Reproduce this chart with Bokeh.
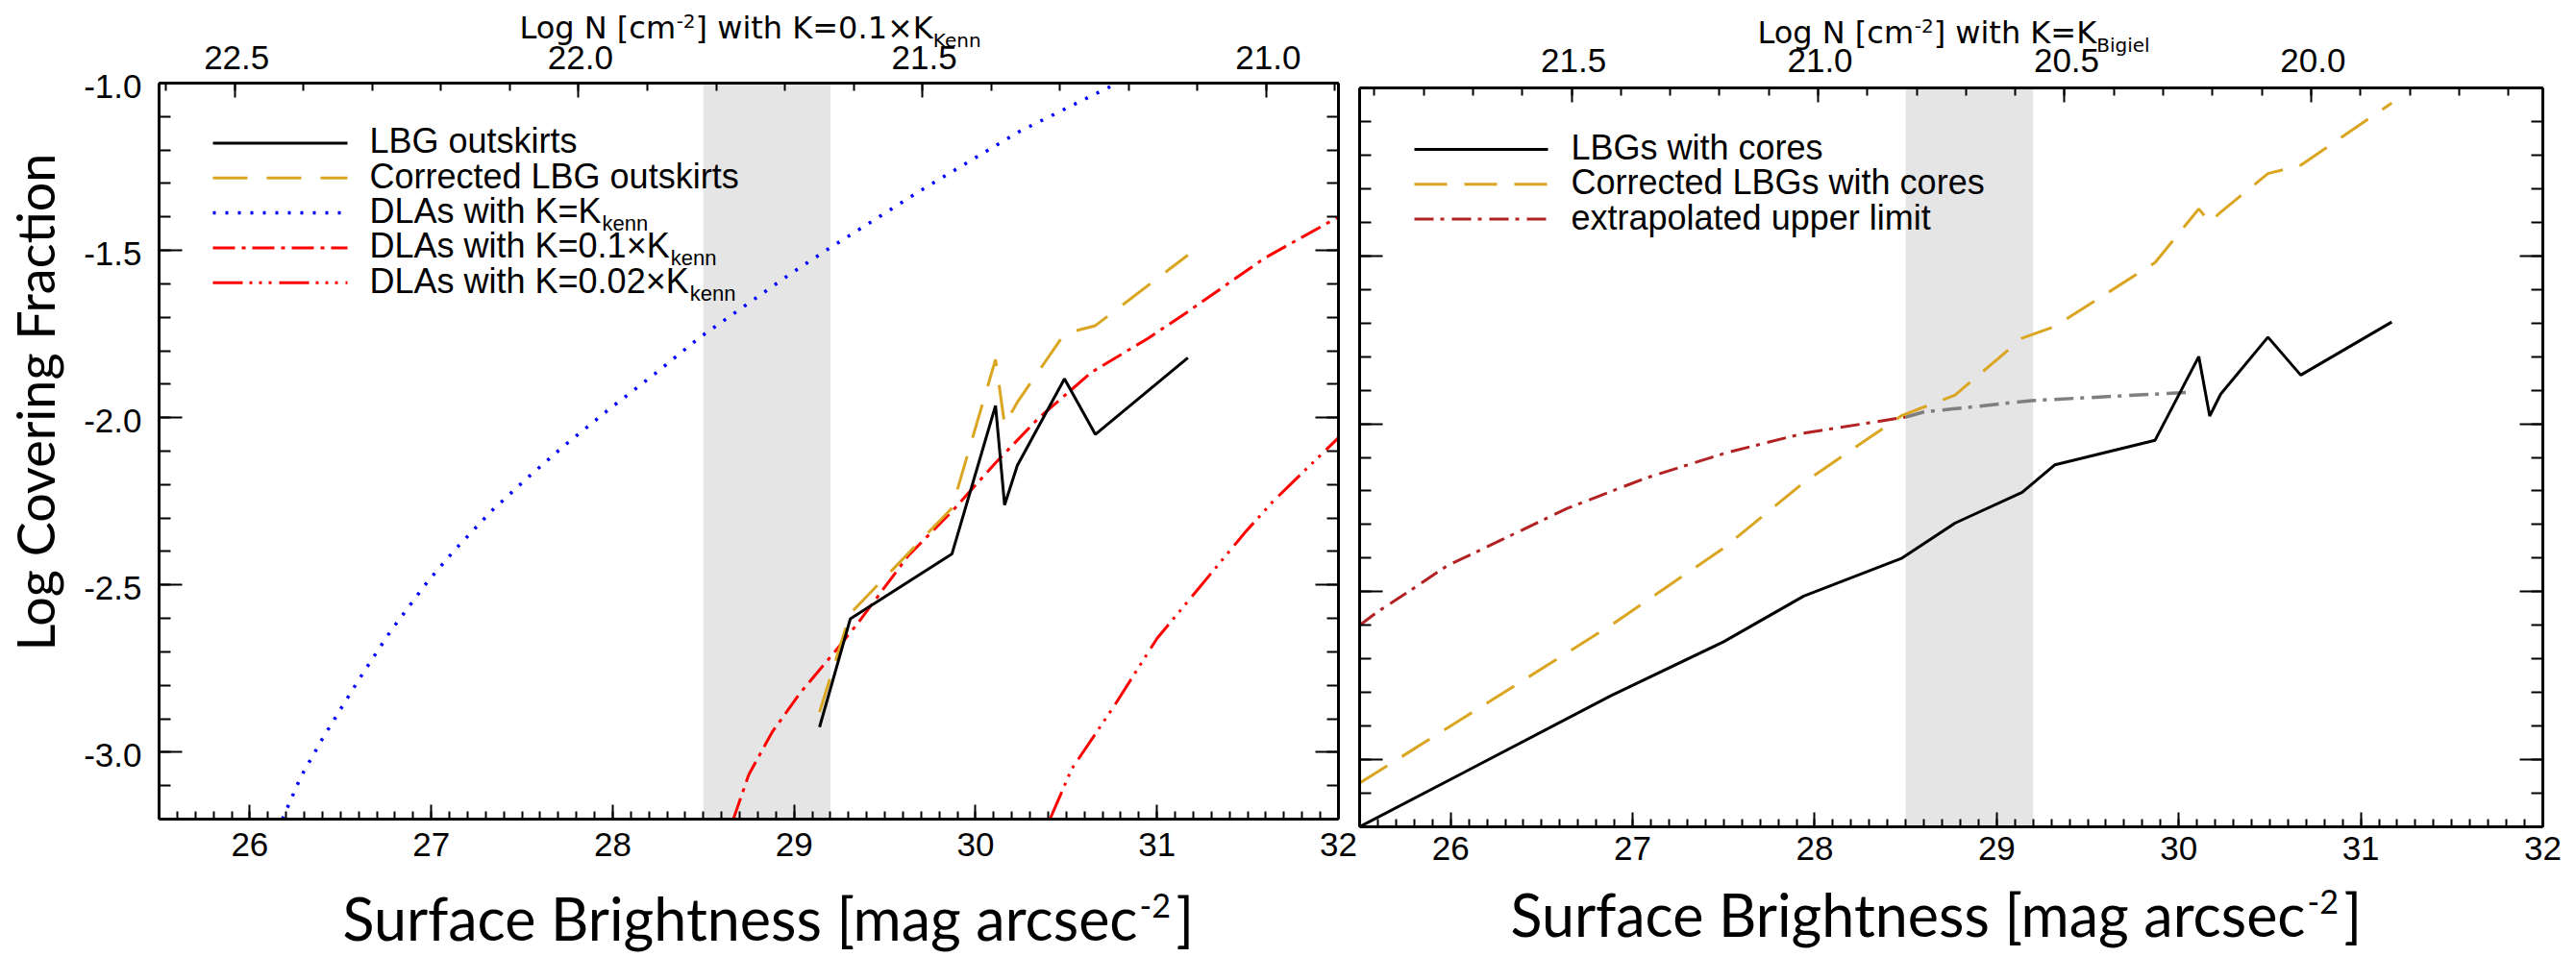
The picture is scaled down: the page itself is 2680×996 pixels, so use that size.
import numpy as np
from bokeh.plotting import figure
from bokeh.models import (Range1d, LinearAxis, FixedTicker, PrintfTickFormatter,
                          BoxAnnotation)
from bokeh.layouts import row, column
from bokeh.core.properties import value
from bokeh.embed import file_html
from bokeh.resources import INLINE

# ---------------- data ----------------
sb_range = [25.5, 32.0]          # surface brightness axis
fc_range = [-3.2, -1.0]          # log covering fraction axis
band = [28.5, 29.2]              # grey shaded interval

sb_ticks = [26, 27, 28, 29, 30, 31, 32]
fc_ticks = [-3.0, -2.5, -2.0, -1.5, -1.0]

# top axes: log N value at the left / right frame edge of each panel, and tick labels
logn_left_edges = [22.61, 20.895]
logn_left_ticks = [22.5, 22.0, 21.5, 21.0]
logn_right_edges = [21.93, 19.53]
logn_right_ticks = [21.5, 21.0, 20.5, 20.0]

# ---- left panel ----
outskirts_sb = [29.14, 29.31, 29.87, 30.11, 30.16, 30.23, 30.49, 30.66, 31.17]
outskirts_fc = [-2.925, -2.601, -2.407, -1.964, -2.261, -2.143, -1.884, -2.050, -1.821]
outskirts_corr_fc = [-2.880, -2.585, -2.270, -1.826, -2.021, -1.954, -1.749, -1.725, -1.514]

dla_kenn_sb = [26.18, 26.28, 26.40, 26.53, 26.64, 26.78, 26.98, 27.13, 27.33, 27.53, 27.73,
               27.98, 28.23, 28.48, 28.73, 28.98, 29.19, 29.38, 29.70, 30.24, 30.80]
dla_kenn_fc = [-3.200, -3.075, -2.960, -2.845, -2.750, -2.635, -2.490, -2.395, -2.280, -2.180,
               -2.085, -1.975, -1.870, -1.760, -1.665, -1.570, -1.495, -1.430, -1.320, -1.145, -0.995]

dla_01_sb = [28.665, 28.75, 28.88, 29.03, 29.23, 29.35, 29.63, 29.86, 30.11, 30.35, 30.64,
             30.95, 31.16, 31.59, 32.0]
dla_01_fc = [-3.200, -3.067, -2.939, -2.825, -2.696, -2.615, -2.412, -2.286, -2.135, -2.000,
             -1.864, -1.763, -1.687, -1.524, -1.400]

dla_002_sb = [30.41, 30.53, 30.76, 31.00, 31.23, 31.49, 31.64, 32.0]
dla_002_fc = [-3.20, -3.05, -2.865, -2.66, -2.51, -2.34, -2.25, -2.06]

# ---- right panel ----
cores_sb = [25.50, 26.88, 27.50, 27.94, 28.48, 28.77, 29.14, 29.32, 29.87, 30.11, 30.17,
            30.23, 30.49, 30.67, 31.17]
cores_fc = [-3.200, -2.810, -2.649, -2.513, -2.400, -2.296, -2.204, -2.122, -2.049, -1.800,
            -1.977, -1.912, -1.742, -1.855, -1.697]
cores_corr_fc = [-3.070, -2.600, -2.370, -2.175, -1.975, -1.915, -1.745, -1.710, -1.520,
                 -1.360, -1.400, -1.370, -1.255, -1.230, -1.045]

extrap_sb = [25.50, 25.59, 25.76, 25.98, 26.29, 26.64, 27.07, 27.51, 27.95, 28.50, 28.60,
             29.19, 30.07]
extrap_fc = [-2.600, -2.563, -2.503, -2.423, -2.343, -2.252, -2.162, -2.087, -2.027, -1.980,
             -1.965, -1.931, -1.906]

# ---------------- styling / layout ----------------
IDL_FONT = "Liberation Sans"
TITLE_FONT = "DejaVu Sans"
KEY_FONT = "Lato"
MID = {IDL_FONT: 0.35, TITLE_FONT: 0.35, KEY_FONT: 0.36}   # baseline -> text middle
GOLD = "#DAA520"
SHADE = "#E5E5E5"
FIREBRICK = "#B22222"
GREY = "#7F7F7F"

PAGE_H = 996
COL_L = (163, 1412)
COL_R = (1412, 2680)
BOX_L = dict(fl=165, fr=1392, ft=86, fb=852)
BOX_R = dict(fl=1414, fr=2645, ft=91, fb=860)
TOP_L_H, TOP_R_H = 84, 89
BOT_Y = 912

ARIAL = {' ': 278, '-': 333, '.': 278, '=': 584, '[': 278, ']': 278, '\u00d7': 584,
         'A': 667, 'B': 667, 'C': 722, 'D': 722, 'G': 778, 'K': 667, 'L': 556, 'N': 722,
         'a': 556, 'c': 500, 'd': 556, 'e': 556, 'g': 556, 'h': 556, 'i': 222, 'k': 500,
         'l': 222, 'm': 833, 'n': 556, 'o': 556, 'p': 556, 'r': 333, 's': 500, 't': 278,
         'u': 556, 'w': 722, 'x': 500}
for _d in "0123456789":
    ARIAL[_d] = 556
DEJAVU = {' ': 318, '-': 361, '.': 318, '=': 838, '[': 390, ']': 390, '\u00d7': 838,
          'B': 686, 'K': 656, 'L': 557, 'N': 748, 'a': 613, 'c': 550, 'e': 615, 'g': 635,
          'h': 634, 'i': 278, 'l': 278, 'm': 974, 'n': 634, 'o': 612, 't': 392, 'w': 818}
for _d in "0123456789":
    DEJAVU[_d] = 636


def text_width(s, size, table):
    return sum(table.get(ch, 556) for ch in s) * size / 1000.0


def lin(v0, v1, p0, p1, P):
    return v0 + (P - p0) * (v1 - v0) / (p1 - p0)


def mid(base, size, font):
    return base - MID[font] * size


def blank(x0, x1, y0, y1, xr, yr):
    p = figure(frame_width=x1 - x0, frame_height=y1 - y0,
               x_range=Range1d(*xr), y_range=Range1d(*yr),
               output_backend="svg", toolbar_location=None,
               x_axis_type=None, y_axis_type=None,
               min_border=0, min_border_left=0, min_border_right=0,
               min_border_top=0, min_border_bottom=0,
               background_fill_color="white", border_fill_color="white")
    p.outline_line_color = None
    p.title.visible = False
    return p


def txt(p, x, y, s, size, font, align="left", angle=0.0):
    p.text(x=[x], y=[y], text=[s], text_font=value(font), text_font_size=value(f"{size}px"),
           text_align=align, text_baseline="middle", angle=angle, text_color="black")


def style(ax, tin, tmin, labels, standoff=0):
    ax.axis_line_width = 3
    ax.axis_line_color = "black"
    ax.major_tick_in = tin
    ax.major_tick_out = 0
    ax.minor_tick_in = tmin
    ax.minor_tick_out = 0
    ax.major_tick_line_width = 2
    ax.minor_tick_line_width = 2
    ax.major_tick_line_color = "black"
    ax.minor_tick_line_color = "black"
    ax.major_label_text_font = IDL_FONT
    ax.major_label_text_font_size = "35px"
    ax.major_label_standoff = standoff
    ax.major_label_text_color = "black" if labels else None


def make_main(col, top_y, height, box, top_edges, top_ticks, standoff):
    p = figure(frame_width=box["fr"] - box["fl"], frame_height=box["fb"] - box["ft"],
               x_range=Range1d(*sb_range), y_range=Range1d(*fc_range),
               output_backend="svg", toolbar_location=None,
               min_border_left=box["fl"] - col[0], min_border_right=col[1] - box["fr"],
               min_border_top=box["ft"] - top_y, min_border_bottom=top_y + height - box["fb"],
               background_fill_color="white", border_fill_color="white")
    p.title.visible = False
    p.outline_line_color = None
    p.xgrid.visible = False
    p.ygrid.visible = False
    p.extra_x_ranges = {"logN": Range1d(*top_edges)}

    x_minor = [round(v, 2) for v in np.arange(sb_range[0], sb_range[1] + 1e-6, 0.1)]
    y_minor = [round(v, 2) for v in np.arange(fc_range[0], fc_range[1] + 1e-6, 0.1)]
    lo, hi = min(top_edges), max(top_edges)
    t_minor = [round(v, 2) for v in np.arange(np.ceil(lo * 10) / 10, hi + 1e-6, 0.1)]

    xb = p.xaxis[0]
    xb.ticker = FixedTicker(ticks=sb_ticks, minor_ticks=x_minor)
    xb.formatter = PrintfTickFormatter(format="%d")
    style(xb, 15, 8, True, standoff)

    yl = p.yaxis[0]
    yl.ticker = FixedTicker(ticks=fc_ticks, minor_ticks=y_minor)
    style(yl, 24, 12, False)

    yr = LinearAxis(ticker=FixedTicker(ticks=fc_ticks, minor_ticks=y_minor))
    style(yr, 24, 12, False)
    p.add_layout(yr, "right")

    xt = LinearAxis(x_range_name="logN",
                    ticker=FixedTicker(ticks=top_ticks, minor_ticks=t_minor))
    style(xt, 15, 8, False)
    p.add_layout(xt, "above")

    p.add_layout(BoxAnnotation(left=band[0], right=band[1], fill_color=SHADE,
                               fill_alpha=1.0, line_color=None, level="underlay"))
    return p


pL = make_main(COL_L, TOP_L_H, BOT_Y - TOP_L_H, BOX_L, logn_left_edges, logn_left_ticks, 14)
pR = make_main(COL_R, TOP_R_H, BOT_Y - TOP_R_H, BOX_R, logn_right_edges, logn_right_ticks, 10)


def to_data(box, X, Y):
    return (lin(sb_range[0], sb_range[1], box["fl"], box["fr"], X),
            lin(fc_range[1], fc_range[0], box["ft"], box["fb"], Y))


# ---------------- curves ----------------
pL.line(dla_kenn_sb, dla_kenn_fc, line_color="blue", line_width=3.5, line_dash="3 10")
pL.line(dla_01_sb, dla_01_fc, line_color="red", line_width=3, line_dash="23 7 4 7")
pL.line(dla_002_sb, dla_002_fc, line_color="red", line_width=3,
        line_dash="31 7 3 7 3 7 3 8")
pL.line(outskirts_sb, outskirts_corr_fc, line_color=GOLD, line_width=3, line_dash="36 20")
pL.line(outskirts_sb, outskirts_fc, line_color="black", line_width=3)

ex_sb = np.array(extrap_sb)
ex_fc = np.array(extrap_fc)
m1 = ex_sb <= band[0] + 1e-9
m2 = ex_sb >= band[0] - 1e-9
pR.line(ex_sb[m1], ex_fc[m1], line_color=FIREBRICK, line_width=3, line_dash="20 7 4 8")
pR.line(ex_sb[m2], ex_fc[m2], line_color=GREY, line_width=3.5, line_dash="20 7 4 8")
pR.line(cores_sb, cores_corr_fc, line_color=GOLD, line_width=3, line_dash="34 18")
pR.line(cores_sb, cores_fc, line_color="black", line_width=3)

# ---------------- legends (inside the frames, placed in data units) ----------------
LEG_SIZE = 36
SUB_SIZE = 22


def legend(p, box, x0, x1, xt, y0, dy, entries):
    for i, (name, sub, color, dash, lw) in enumerate(entries):
        Y = y0 + i * dy
        (a, yy), (b, _) = to_data(box, x0, Y), to_data(box, x1, Y)
        p.line([a, b], [yy, yy], line_color=color, line_width=lw, line_dash=dash)
        tx, ty = to_data(box, xt, mid(Y + 10.5, LEG_SIZE, IDL_FONT))
        txt(p, tx, ty, name, LEG_SIZE, IDL_FONT)
        if sub:
            w = text_width(name, LEG_SIZE, ARIAL)
            sx, sy = to_data(box, xt + w + 1, mid(Y + 18.5, SUB_SIZE, IDL_FONT))
            txt(p, sx, sy, sub, SUB_SIZE, IDL_FONT)


legend(pL, BOX_L, 221, 361, 384, 148.5, 36.3, [
    ("LBG outskirts", "", "black", "solid", 3),
    ("Corrected LBG outskirts", "", GOLD, "36 20", 3),
    ("DLAs with K=K", "kenn", "blue", "3 10", 3.5),
    ("DLAs with K=0.1\u00d7K", "kenn", "red", "23 7 4 7", 3),
    ("DLAs with K=0.02\u00d7K", "kenn", "red", "31 7 3 7 3 7 3 8", 3),
])
legend(pR, BOX_R, 1471, 1610, 1634, 155, 36.3, [
    ("LBGs with cores", "", "black", "solid", 3),
    ("Corrected LBGs with cores", "", GOLD, "34 18", 3),
    ("extrapolated upper limit", "", FIREBRICK, "20 7 4 8", 3),
])


# ---------------- strip above each panel: log N tick labels and title ----------------
def top_strip(col, height, box, edges, ticks, tick_base, cx, base, pieces):
    xr = (lin(edges[0], edges[1], box["fl"], box["fr"], col[0]),
          lin(edges[0], edges[1], box["fl"], box["fr"], col[1]))
    s = blank(col[0], col[1], 0, height, xr, (height, 0))
    for t in ticks:
        txt(s, t, mid(tick_base, 35, IDL_FONT), f"{t:.1f}", 35, IDL_FONT, align="center")
    total = sum(text_width(t, sz, DEJAVU) for t, sz, _ in pieces)
    X = cx - total / 2.0
    for t, sz, dy in pieces:
        txt(s, lin(edges[0], edges[1], box["fl"], box["fr"], X),
            mid(base - dy, sz, TITLE_FONT), t, sz, TITLE_FONT)
        X += text_width(t, sz, DEJAVU)
    return s


tL = top_strip(COL_L, TOP_L_H, BOX_L, logn_left_edges, logn_left_ticks, 72, 778.5, 40,
               [("Log N [cm", 32, 0), ("-2", 20, 12), ("] with K=0.1\u00d7K", 32, 0),
                ("Kenn", 20, -8)])
tR = top_strip(COL_R, TOP_R_H, BOX_R, logn_right_edges, logn_right_ticks, 75, 2030, 45,
               [("Log N [cm", 32, 0), ("-2", 20, 12), ("] with K=K", 32, 0),
                ("Bigiel", 20, -8)])


# ---------------- strip below each panel: x title ----------------
XT_SIZE = 61
SUP_SIZE = 34


def bottom_strip(col, xend, base):
    s = blank(col[0], col[1], BOT_Y, PAGE_H, (col[0], col[1]), (PAGE_H, BOT_Y))
    txt(s, xend, mid(base, XT_SIZE, KEY_FONT), "Surface Brightness [mag arcsec", XT_SIZE,
        KEY_FONT, align="right")
    txt(s, xend + 2, mid(base - 23, SUP_SIZE, KEY_FONT), "-2", SUP_SIZE, KEY_FONT)
    txt(s, xend + 40, mid(base, XT_SIZE, KEY_FONT), "]", XT_SIZE, KEY_FONT)
    return s


bL = bottom_strip(COL_L, 1181, 977)
bR = bottom_strip(COL_R, 2396, 973)

# ---------------- strip left of the left panel: y tick labels and y title ----------------
fc_at = lambda Y: lin(fc_range[1], fc_range[0], BOX_L["ft"], BOX_L["fb"], Y)
px_per_fc = (BOX_L["fb"] - BOX_L["ft"]) / (fc_range[1] - fc_range[0])
yS = blank(0, COL_L[0], 0, PAGE_H, (0, COL_L[0]), (fc_at(PAGE_H), fc_at(0)))
for t in fc_ticks:
    txt(yS, 147, t - 3.0 / px_per_fc, f"{t:.1f}", 35, IDL_FONT, align="right")
txt(yS, 36, fc_at(418), "Log Covering Fraction", 54, KEY_FONT, align="center",
    angle=np.pi / 2)

layout = row(yS, column(tL, pL, bL), column(tR, pR, bR))
open("out.html", "w").write(file_html(layout, INLINE))
